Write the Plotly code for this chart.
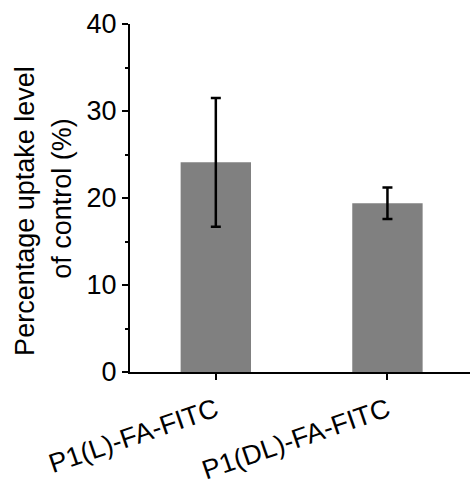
import plotly.graph_objects as go

categories = ["P1(L)-FA-FITC", "P1(DL)-FA-FITC"]
values = [24.1, 19.4]
errors = [7.4, 1.8]
y_ticks = [0, 10, 20, 30, 40]
y_minor_ticks = [5, 15, 25, 35]
y_title_lines = ["Percentage uptake level", "of control (%)"]

FONT = "Liberation Sans, Arial, sans-serif"

fig = go.Figure()
fig.add_trace(go.Bar(
    x=list(range(len(categories))),
    y=values,
    width=0.41,
    marker=dict(color="#808080", line=dict(width=0)),
    error_y=dict(type="data", array=errors, visible=True,
                 color="black", thickness=2.5, width=5),
))

fig.update_layout(
    width=470, height=486,
    margin=dict(l=130, r=0, t=24, b=114),
    plot_bgcolor="white", paper_bgcolor="white",
    showlegend=False,
    font=dict(family=FONT, color="black"),
)
fig.update_xaxes(
    automargin=False,
    range=[-0.5, 1.481],
    tickmode="array", tickvals=list(range(len(categories))), ticktext=categories,
    tickangle=-19,
    tickfont=dict(size=27, family=FONT),
    ticklabelstandoff=4,
    showline=True, linecolor="black", linewidth=2,
    ticks="outside", ticklen=6, tickwidth=2, tickcolor="black",
    showgrid=False, zeroline=False,
)
fig.update_yaxes(
    automargin=False,
    range=[0, 40],
    tickmode="array", tickvals=y_ticks,
    tickfont=dict(size=27, family=FONT),
    showline=True, linecolor="black", linewidth=2,
    ticks="outside", ticklen=6, tickwidth=2, tickcolor="black",
    minor=dict(ticks="outside", ticklen=3, tickwidth=2, tickcolor="black",
               tickmode="array", tickvals=y_minor_ticks),
    showgrid=False, zeroline=False,
)

# y-axis title as two rotated text lines (reference uses loose line spacing)
fig.add_annotation(text=y_title_lines[0], xref="paper", yref="paper",
                   x=0, y=0.463, xshift=-105, showarrow=False, textangle=-90,
                   xanchor="center", yanchor="middle",
                   font=dict(size=27, family=FONT, color="black"))
fig.add_annotation(text=y_title_lines[1], xref="paper", yref="paper",
                   x=0, y=0.498, xshift=-68, showarrow=False, textangle=-90,
                   xanchor="center", yanchor="middle",
                   font=dict(size=27, family=FONT, color="black"))

fig.write_html("out.html")
